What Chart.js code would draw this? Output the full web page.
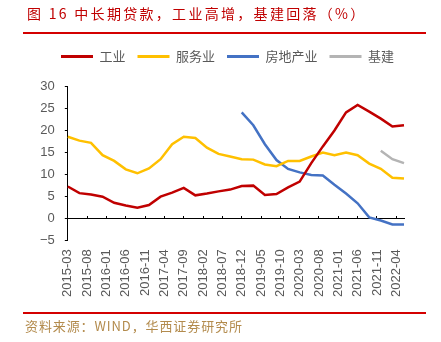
<!DOCTYPE html>
<html>
<head>
<meta charset="utf-8">
<script src="https://cdn.jsdelivr.net/npm/chart.js@4.4.1/dist/chart.umd.min.js"></script>
<style>
  html, body { margin: 0; padding: 0; background: #fff; }
  #wrap { position: relative; width: 441px; height: 342px; overflow: hidden; }
  #chart { position: absolute; left: 0; top: 0; }
  .title {
    position: absolute; left: 27px; top: 3px;
    font: 14px "Noto Sans CJK SC", sans-serif; letter-spacing: 2.3px;
    color: #c00000; white-space: nowrap;
  }
  .rule { position: absolute; left: 23px; width: 403px; height: 2px; background: #d40000; }
  .source {
    position: absolute; left: 25px; top: 316px;
    font: 13px "Noto Sans CJK SC", sans-serif; letter-spacing: 0.9px;
    color: #b38b4d; white-space: nowrap;
  }
</style>
</head>
<body>
<div id="wrap">
  <canvas id="chart" width="441" height="342"></canvas>
  <div class="title">图 16 中长期贷款，工业高增，基建回落（%）</div>
  <div class="rule" style="top:32px"></div>
  <div class="rule" style="top:312px"></div>
  <div class="source">资料来源：WIND，华西证券研究所</div>
</div>
<script>
// quarter-end points
const quarters = [
  "2015-03", "2015-06", "2015-09", "2015-12",
  "2016-03", "2016-06", "2016-09", "2016-12",
  "2017-03", "2017-06", "2017-09", "2017-12",
  "2018-03", "2018-06", "2018-09", "2018-12",
  "2019-03", "2019-06", "2019-09", "2019-12",
  "2020-03", "2020-06", "2020-09", "2020-12",
  "2021-03", "2021-06", "2021-09", "2021-12",
  "2022-03", "2022-06"
];

const industry = [7.2, 5.7, 5.4, 4.9, 3.5, 2.9, 2.4, 3.0, 4.9, 5.8, 6.9, 5.2, 5.6, 6.1, 6.5,
  7.3, 7.4, 5.3, 5.5, 7.0, 8.3, 12.5, 16.3, 19.9, 24.0, 25.7, 24.2, 22.6, 20.8, 21.1];
const services = [18.5, 17.6, 17.1, 14.3, 13.0, 11.1, 10.2, 11.3, 13.4, 16.8, 18.5, 18.2, 16.0, 14.6, 14.0,
  13.4, 13.3, 12.2, 11.8, 13.0, 13.0, 14.0, 14.9, 14.3, 14.9, 14.3, 12.4, 11.2, 9.2, 9.0];
const realEstate = [null, null, null, null, null, null, null, null, null, null, null, null, null, null, null,
  24.0, 21.1, 16.8, 13.2, 11.2, 10.4, 9.8, 9.7, 7.6, 5.6, 3.4, 0.2, -0.5, -1.4, -1.4];
const infra = [null, null, null, null, null, null, null, null, null, null, null, null, null, null, null,
  null, null, null, null, null, null, null, null, null, null, null, null, 15.3, 13.4, 12.5];

const seriesNames = ["工业", "服务业", "房地产业", "基建"];
const seriesColors = ["#c00000", "#ffc000", "#4472c4", "#b4b4b4"];

// monthly axis 2015-03 .. 2022-06, labelled every 5 months
const months = [];
for (let i = 0; i < 88; i++) {
  const t = 2015 * 12 + 2 + i;
  months.push(Math.floor(t / 12) + "-" + String((t % 12) + 1).padStart(2, "0"));
}

const toPoints = (values) =>
  quarters.map((q, i) => ({ x: q, y: values[i] })).filter((p) => p.y !== null);

const tickFont = { family: "'Liberation Sans', Arial, sans-serif", size: 13 };

// pushes the plot down from the legend
const legendGap = {
  id: "legendGap",
  afterInit(chart) {
    const fit = chart.legend.fit;
    chart.legend.fit = function () {
      fit.call(this);
      this.height += 13;
    };
  }
};

new Chart(document.getElementById("chart"), {
  type: "line",
  data: {
    labels: months,
    datasets: [industry, services, realEstate, infra].map((values, i) => ({
      label: seriesNames[i],
      data: toPoints(values),
      borderColor: seriesColors[i],
      backgroundColor: seriesColors[i],
      borderWidth: 2.5,
      pointRadius: 0,
      tension: 0
    }))
  },
  options: {
    responsive: false,
    animation: false,
    layout: { padding: { top: 38, left: 30, right: 16, bottom: 36 } },
    plugins: {
      legend: {
        labels: {
          boxWidth: 32,
          boxHeight: 3,
          padding: 12,
          color: "#595959",
          font: { family: "'Noto Sans CJK SC', sans-serif", size: 13 },
          generateLabels: (chart) =>
            Chart.defaults.plugins.legend.labels.generateLabels(chart).map((l) => ({ ...l, lineWidth: 0 }))
        }
      },
      tooltip: { enabled: false }
    },
    scales: {
      x: {
        type: "category",
        position: { y: 0 },
        offset: false,
        ticks: { display: false, autoSkip: false },
        grid: {
          drawOnChartArea: false,
          drawTicks: true,
          tickLength: -3,
          color: (ctx) => (ctx.index % 5 === 0 ? "#000" : "rgba(0,0,0,0)")
        },
        border: { color: "#000", width: 1 }
      },
      x2: {
        type: "category",
        position: "bottom",
        offset: false,
        grid: { display: false, drawTicks: false },
        border: { display: false },
        ticks: {
          autoSkip: false,
          minRotation: 90,
          maxRotation: 90,
          padding: 9,
          color: "#595959",
          font: tickFont,
          callback: function (value, index) {
            return index % 5 === 0 ? this.getLabelForValue(value) : "";
          }
        }
      },
      y: {
        min: -5,
        max: 30,
        ticks: {
          stepSize: 5,
          padding: 10,
          color: "#595959",
          font: tickFont,
          callback: (v) => (v < 0 ? "\u2212" + Math.abs(v) : v)
        },
        grid: { drawOnChartArea: false, tickLength: 3, color: "#000" },
        border: { color: "#000", width: 1 }
      },
      // empty right margin so the legend centres where the reference has it
      yRight: {
        position: "right",
        ticks: { display: false },
        grid: { display: false, drawTicks: false },
        border: { display: false },
        afterFit: (scale) => {
          scale.width = 21;
        }
      }
    }
  },
  plugins: [legendGap]
});
</script>
</body>
</html>
